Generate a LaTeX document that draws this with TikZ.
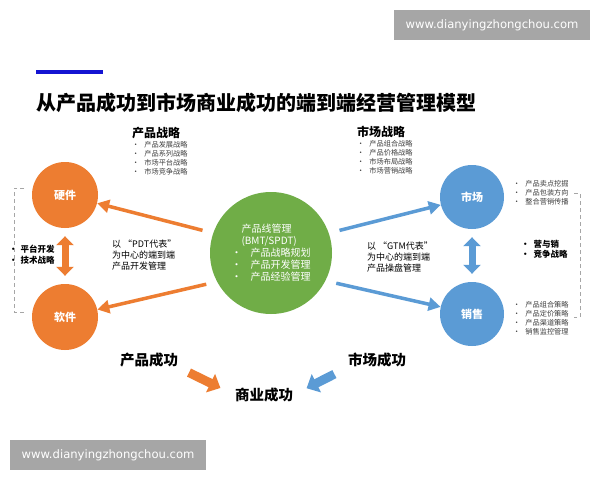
\documentclass[tikz,border=0pt]{standalone}
\usepackage{fontspec}
\setmainfont{Noto Sans CJK SC}
\newfontfamily\urlfont{DejaVu Sans}
\usetikzlibrary{arrows.meta,positioning}
\definecolor{ored}{RGB}{237,125,49}
\definecolor{sblue}{RGB}{91,155,213}
\definecolor{lgreen}{RGB}{112,173,71}
\definecolor{wgray}{RGB}{166,166,166}
\definecolor{txtgray}{RGB}{64,64,64}
\definecolor{barblue}{RGB}{20,20,210}
\newcommand\bul{\textbullet\hspace{5pt}}

\begin{document}
\begin{tikzpicture}[x=1pt,y=-1pt,
  ball/.style={circle,inner sep=0pt,text=white,font=\fontsize{11}{13}\selectfont\bfseries},
  urlbox/.style={fill=wgray,text=white,minimum width=196pt,minimum height=30pt,inner sep=0pt,font=\urlfont\fontsize{11.6}{13}\selectfont},
  head/.style={anchor=west,inner sep=0pt,font=\fontsize{12}{14}\selectfont\bfseries},
  items/.style={anchor=north west,inner sep=0pt,align=left,text=txtgray,font=\fontsize{7.2}{9}\selectfont},
  note/.style={anchor=north west,inner sep=0pt,align=left,font=\fontsize{9}{11}\selectfont},
  goal/.style={inner sep=0pt,font=\fontsize{14.5}{16}\selectfont\bfseries},
  flow/.style={line width=3.5pt,-{Triangle[length=12pt,width=13pt]},shorten <=11pt},
  twoway/.style={line width=7pt,{Triangle[length=9pt,width=17pt]}-{Triangle[length=9pt,width=17pt]},shorten <=8pt,shorten >=8pt},
  fat/.style={line width=9pt,-{Triangle[length=11pt,width=20pt]}},
  bracket/.style={draw=wgray,line width=0.8pt,dash pattern=on 4pt off 3pt}]
  \fill[white] (0,0) rectangle (600,480);
  \useasboundingbox (0,0) rectangle (600,480);
  % url boxes
  \node[urlbox] (urltop) at (492,25) {www.dianyingzhongchou.com};
  \node[urlbox] (urlbot) at (108,455) {www.dianyingzhongchou.com};
  % title
  \fill[barblue] (36,70) rectangle (103,74);
  \node[anchor=west,inner sep=0pt,font=\fontsize{20}{24}\selectfont\bfseries] (title) at (36,103) {从产品成功到市场商业成功的端到端经营管理模型};
  % strategies
  \node[head] (prodstr) at (132,133) {产品战略};
  \node[items] (prodlist) at (prodstr.south west) [yshift=-2pt] {\bul 产品发展战略\\ \bul 产品系列战略\\ \bul 市场平台战略\\ \bul 市场竞争战略};
  \node[head] (mktstr) at (357,132) {市场战略};
  \node[items] (mktlist) at (mktstr.south west) [yshift=-2pt] {\bul 产品组合战略\\ \bul 产品价格战略\\ \bul 市场布局战略\\ \bul 市场营销战略};
  % circles
  \node[ball,fill=ored,minimum size=66pt] (hw) at (65,195) {硬件};
  \node[ball,fill=ored,minimum size=66pt] (sw) at (65,317) {软件};
  \node[ball,fill=lgreen,minimum size=122pt,align=left,font=\fontsize{10}{12}\selectfont] (plm) at (271,253)
    {\hspace{10pt}产品线管理\\ \hspace{10pt}(BMT/SPDT)\\ \textbullet\hspace{9pt}产品战略规划\\ \textbullet\hspace{9pt}产品开发管理\\ \textbullet\hspace{9pt}产品经验管理};
  \node[ball,fill=sblue,minimum size=64pt] (mkt) at (472,197) {市场};
  \node[ball,fill=sblue,minimum size=64pt] (sales) at (472,314) {销售};
  % notes
  \node[note,font=\fontsize{8.5}{10.5}\selectfont\bfseries] (platform) at (9,245) {\textbullet\hspace{3pt}平台开发\\ \textbullet\hspace{3pt}技术战略};
  \node[note] (pdt) at (112,240) {以 “PDT代表”\\ 为中心的端到端\\ 产品开发管理};
  \node[note] (gtm) at (367,242) {以 “GTM代表”\\ 为中心的端到端\\ 产品操盘管理};
  \node[note,font=\fontsize{8.5}{10.5}\selectfont\bfseries] (compete) at (521,240) {\textbullet\hspace{4pt}营与销\\ \textbullet\hspace{4pt}竞争战略};
  \node[items] (mktitems) at (513,180) {\bul 产品卖点挖掘\\ \bul 产品包装方向\\ \bul 整合营销传播};
  \node[items] (salesitems) at (513,301) {\bul 产品组合策略\\ \bul 产品定价策略\\ \bul 产品渠道策略\\ \bul 销售监控管理};
  % connectors
  \draw[flow,draw=ored] (plm.161) -- (hw);
  \draw[flow,draw=ored] (plm.208) -- (sw);
  \draw[flow,draw=sblue] (plm.19) -- (mkt);
  \draw[flow,draw=sblue] (plm.-27) -- (sales);
  \draw[twoway,draw=ored] (hw) -- (sw);
  \draw[twoway,draw=sblue] (mkt) -- (sales);
  \draw[bracket] (24,188) -- (14,188) -- (14,312) -- (24,312);
  \draw[bracket] (574,193) -- (580,193) -- (580,317) -- (574,317);
  % success
  \node[goal] (prodok) at (149,360) {产品成功};
  \node[goal] (mktok) at (377,360) {市场成功};
  \node[goal] (bizok) at (264,395) {商业成功};
  \draw[fat,draw=ored,shorten <=12pt,shorten >=16pt] (prodok.south east) -- (bizok.west);
  \draw[fat,draw=sblue,shorten <=15pt,shorten >=15pt] (mktok.south west) -- (bizok.east);
\end{tikzpicture}
\end{document}
